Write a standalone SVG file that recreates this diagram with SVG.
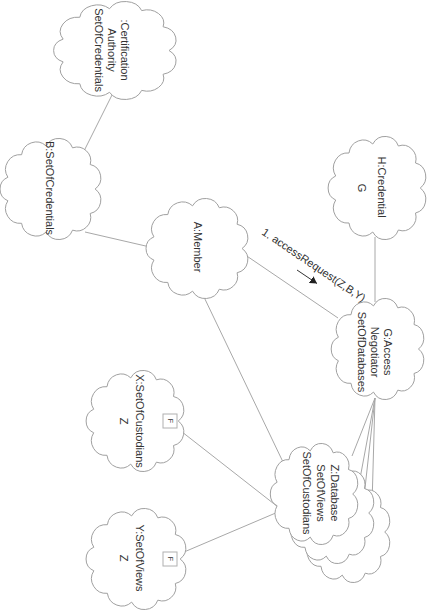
<svg xmlns="http://www.w3.org/2000/svg" xmlns:xlink="http://www.w3.org/1999/xlink" width="427" height="610" viewBox="0 0 427 610">
<style>
.cloud{fill:#fff;stroke:#a0a0a0;stroke-width:1;vector-effect:non-scaling-stroke}
.conn{stroke:#a8a8a8;stroke-width:1;fill:none}
.t{font-family:"Liberation Sans",Arial,sans-serif;font-size:11px;fill:#333;text-anchor:middle}
.fbox{fill:#fff;stroke:#b0b0b0;stroke-width:1}
.ft{font-family:"Liberation Sans",Arial,sans-serif;font-size:7px;fill:#333;text-anchor:middle}
</style>
<defs>
<path id="cloud" class="cloud" d="M20,15 A15,15 0 0 1 45,6 A15,15 0 0 1 72,8 A14,14 0 0 1 90,25 A14,14 0 0 1 95,50 A14,14 0 0 1 90,75 A14,14 0 0 1 72,92 A15,15 0 0 1 45,94 A15,15 0 0 1 20,85 A15,15 0 0 1 6,62 A13,13 0 0 1 6,38 A15,15 0 0 1 20,15 Z"/>
<marker id="arr" markerWidth="8" markerHeight="8" refX="7" refY="4" orient="auto" markerUnits="userSpaceOnUse">
<path d="M0,0 L7,4 L0,8 Z" fill="#222"/>
</marker>
</defs>
<rect width="427" height="610" fill="#fff"/>
<g id="connectors">
<line class="conn" x1="112" y1="95" x2="82" y2="155"/>
<line class="conn" x1="85" y1="232" x2="150" y2="247"/>
<line class="conn" x1="235" y1="248" x2="338" y2="318"/>
<line class="conn" x1="203" y1="295" x2="283" y2="462"/>
<line class="conn" x1="375" y1="237" x2="375" y2="302"/>
<line class="conn" x1="375" y1="398" x2="352" y2="456"/>
<line class="conn" x1="375" y1="398" x2="359" y2="484"/>
<line class="conn" x1="375" y1="398" x2="364" y2="497"/>
<line class="conn" x1="375" y1="398" x2="372" y2="505"/>
<line class="conn" x1="177" y1="428" x2="278" y2="507"/>
<line class="conn" x1="177" y1="555" x2="278" y2="512"/>
<line x1="297" y1="270" x2="317" y2="283.5" stroke="#333" stroke-width="1" marker-end="url(#arr)"/>
</g>
<g id="certAuthority">
<use xlink:href="#cloud" transform="translate(56,3) scale(1.19,0.95)"/>
<text class="t" transform="translate(112,50) rotate(90)"><tspan x="0" y="-9">:Certification</tspan><tspan x="0" y="4">Authority</tspan><tspan x="0" y="17">SetOfCredentials</tspan></text>
</g>
<g id="B">
<use xlink:href="#cloud" transform="translate(2,140) scale(0.98,0.98)"/>
<text class="t" transform="translate(50,188) rotate(90)" y="4">B:SetOfCredentials</text>
</g>
<g id="A">
<use xlink:href="#cloud" transform="translate(148,200) scale(0.99,0.97)"/>
<text class="t" transform="translate(198,247) rotate(90)" y="4">A:Member</text>
</g>
<g id="H">
<use xlink:href="#cloud" transform="translate(330,138) scale(0.95,1)"/>
<text class="t" transform="translate(382,187) rotate(90)" y="4">H:Credential</text>
<text class="t" transform="translate(362,188) rotate(90)" y="4">G</text>
</g>
<g id="G">
<use xlink:href="#cloud" transform="translate(333,300) scale(0.9,0.98)"/>
<text class="t" transform="translate(375,352) rotate(90)"><tspan x="0" y="-9">G:Access</tspan><tspan x="0" y="4">Negotiator</tspan><tspan x="0" y="17">SetOfDatabases</tspan></text>
</g>
<g id="Z">
<use xlink:href="#cloud" transform="translate(304,483) scale(0.85,0.98)"/>
<use xlink:href="#cloud" transform="translate(288,464) scale(0.85,0.98)"/>
<use xlink:href="#cloud" transform="translate(272,445) scale(0.85,0.98)"/>
<text class="t" transform="translate(321,493) rotate(90)"><tspan x="0" y="-10">Z:Database</tspan><tspan x="0" y="4">SetOfViews</tspan><tspan x="0" y="18">SetOfCustodians</tspan></text>
</g>
<g id="X">
<use xlink:href="#cloud" transform="translate(88,372) scale(0.95,0.98)"/>
<text class="t" transform="translate(140,421) rotate(90)" y="4">X:SetOfCustodians</text>
<text class="t" transform="translate(124,421) rotate(90)" y="4">Z</text>
<rect class="fbox" x="163" y="414" width="14" height="14"/>
<text class="ft" transform="translate(170,421) rotate(90)" y="2.5">F</text>
</g>
<g id="Y">
<use xlink:href="#cloud" transform="translate(88,510) scale(0.97,0.98)"/>
<text class="t" transform="translate(140,558) rotate(90)" y="4">Y:SetOfViews</text>
<text class="t" transform="translate(124,558) rotate(90)" y="4">Z</text>
<rect class="fbox" x="163" y="552" width="14" height="14"/>
<text class="ft" transform="translate(170,559) rotate(90)" y="2.5">F</text>
</g>
<g id="connector-labels">
<text class="t" style="text-anchor:start" transform="translate(261,234) rotate(34)">1. accessRequest(Z,B,Y)</text>
</g>
</svg>
